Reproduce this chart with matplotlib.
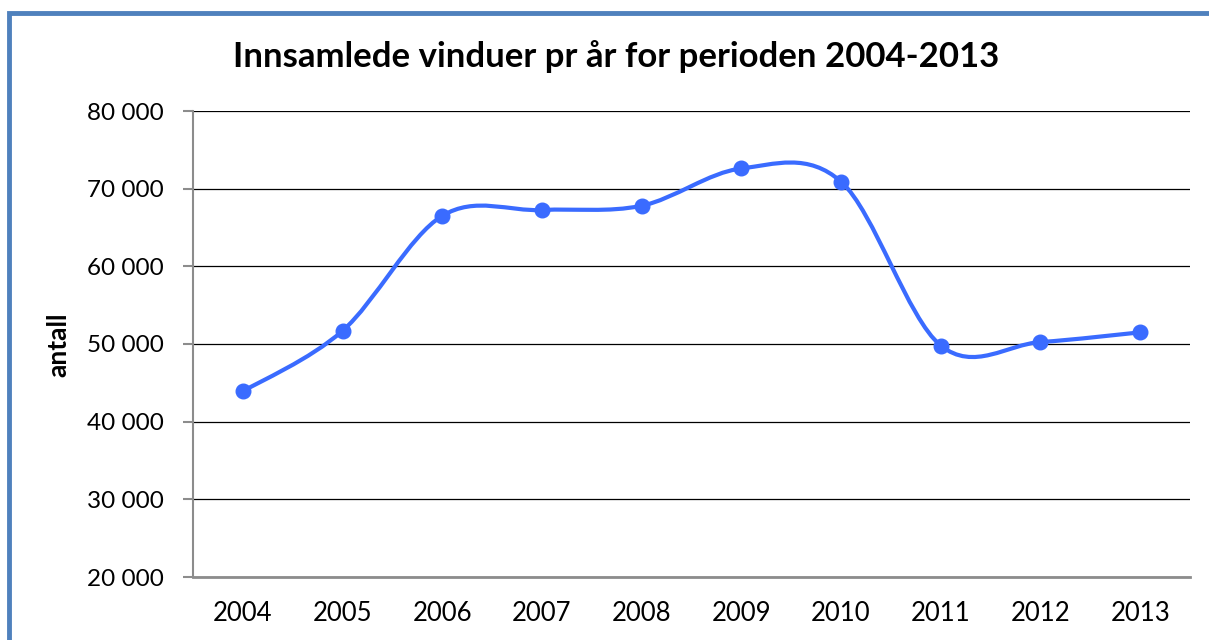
import numpy as np
import matplotlib.pyplot as plt
from matplotlib.path import Path
from matplotlib.patches import PathPatch, Rectangle
from matplotlib.ticker import FuncFormatter

years = ["2004", "2005", "2006", "2007", "2008", "2009", "2010", "2011", "2012", "2013"]
antall = [43900, 51700, 66500, 67250, 67800, 72600, 70900, 49800, 50250, 51500]

plt.rcParams['font.family'] = ['Lato', 'DejaVu Sans']


def smooth_path(x, y):
    # bezier segments with catmull-rom style tangents, like a smoothed office line
    n = len(x)
    verts = [(x[0], y[0])]
    codes = [Path.MOVETO]
    for i in range(n - 1):
        p0 = max(i - 1, 0)
        p3 = min(i + 2, n - 1)
        c1 = (x[i] + (x[i + 1] - x[p0]) / 6, y[i] + (y[i + 1] - y[p0]) / 6)
        c2 = (x[i + 1] - (x[p3] - x[i]) / 6, y[i + 1] - (y[p3] - y[i]) / 6)
        verts += [c1, c2, (x[i + 1], y[i + 1])]
        codes += [Path.CURVE4] * 3
    return Path(verts, codes)


fig = plt.figure(figsize=(12.09, 6.40), dpi=100)
ax = fig.add_axes([193 / 1209, 1 - 577 / 640, (1190 - 193) / 1209, (577 - 111) / 640])

xs = np.arange(len(years))
line_col = '#3A6BFF'
ax.add_patch(PathPatch(smooth_path(xs, antall), facecolor='none', edgecolor=line_col,
                       lw=3.0, capstyle='round', zorder=3))
ax.plot(xs, antall, 'o', color=line_col, markersize=10.5, zorder=4)

ax.set_xlim(-0.5, len(years) - 0.5)
ax.set_ylim(20000, 80000)
ax.set_yticks(np.arange(20000, 80001, 10000))
ax.yaxis.set_major_formatter(FuncFormatter(lambda v, p: f"{int(v):,}".replace(",", " ")))
ax.set_xticks(xs)
ax.set_xticklabels(years)

ax.grid(axis='y', color='black', lw=0.9, zorder=1)
ax.set_axisbelow(True)
for s in ['top', 'right']:
    ax.spines[s].set_visible(False)
ax.spines['left'].set_color('#8c8c8c')
ax.spines['left'].set_linewidth(1.5)
ax.spines['bottom'].set_color('#8c8c8c')
ax.spines['bottom'].set_linewidth(2)
ax.tick_params(axis='y', length=7, width=1.5, color='#8c8c8c', labelsize=17.5, pad=14)
ax.tick_params(axis='x', length=0, labelsize=18.5, pad=17)

fig.text(58 / 1209, 1 - 345 / 640, "antall", rotation=90, ha='center', va='center',
         fontsize=19, fontweight='bold')
fig.text(0.5095, 1 - 57 / 640, "Innsamlede vinduer pr år for perioden 2004-2013",
         ha='center', va='center', fontsize=25, fontweight='bold')

# blue outer frame (left and top edges)
fig.add_artist(Rectangle((9 / 1209, -0.1), 1.5, 1 - 13 / 640 + 0.1, transform=fig.transFigure,
                         facecolor='none', edgecolor='#4F81BD', lw=3.5))

fig.savefig("out.png", dpi=100)
